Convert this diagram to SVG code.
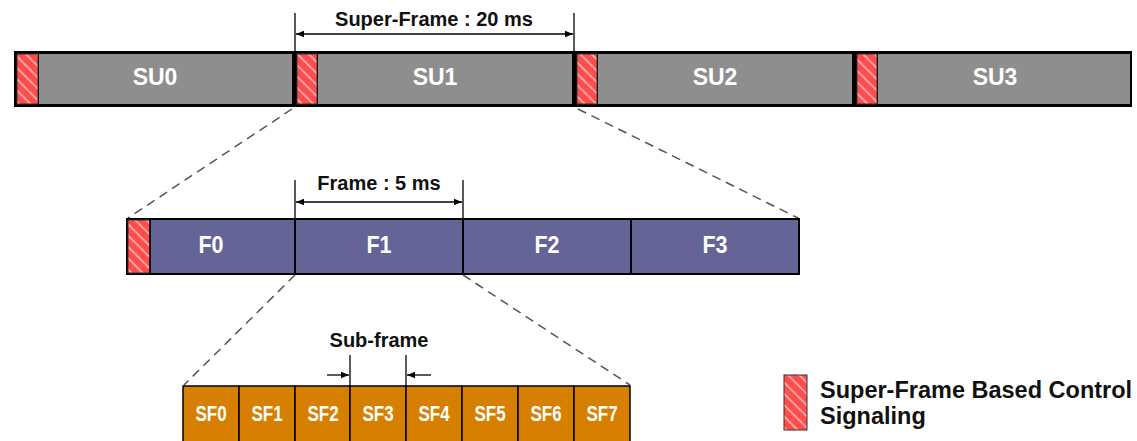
<svg xmlns="http://www.w3.org/2000/svg" width="1137" height="441" viewBox="0 0 1137 441">
<style>
.lbl{font-family:"Liberation Sans",Arial,sans-serif;font-weight:bold;fill:#fff;text-anchor:middle}
.dim{font-family:"Liberation Sans",Arial,sans-serif;font-weight:bold;fill:#111;text-anchor:middle}
.su{fill:#8e8e8e}
.fr{fill:#646496;stroke:#000;stroke-width:2}
.sf{fill:#d67f00;stroke:#000;stroke-width:1.5}
.hatch{fill:url(#hatch);stroke:#333;stroke-width:1}
.dash{stroke:#555;stroke-width:1.5;stroke-dasharray:9,6;fill:none}
.ext{stroke:#000;stroke-width:1.3;fill:none}
.arr{stroke:#000;stroke-width:1.3;fill:none}
</style>
<defs>
<pattern id="hatch" patternUnits="userSpaceOnUse" width="8" height="8" patternTransform="rotate(-45)">
<rect width="8" height="8" fill="#ff4d4d"/>
<line x1="4" y1="0" x2="4" y2="8" stroke="#ffb8b8" stroke-width="1.6"/>
</pattern>
<marker id="ah" viewBox="0 0 10 10" refX="10" refY="5" markerWidth="10" markerHeight="8" markerUnits="userSpaceOnUse" orient="auto-start-reverse">
<path d="M0,1 L10,5 L0,9 z" fill="#000"/>
</marker>
</defs>

<g id="connectors">
<line class="dash" x1="292" y1="109" x2="128" y2="218"/>
<line class="dash" x1="578" y1="109" x2="798" y2="218"/>
<line class="dash" x1="295" y1="275" x2="184" y2="385"/>
<line class="dash" x1="463" y1="275" x2="630" y2="385"/>
</g>

<g id="superframe-bar">
<rect x="14" y="51" width="1118" height="56" fill="#000"/>
<rect class="su" x="39" y="54" width="253" height="50"/>
<rect class="su" x="318" y="54" width="254" height="50"/>
<rect class="su" x="598" y="54" width="254" height="50"/>
<rect class="su" x="878" y="54" width="252" height="50"/>
<rect class="hatch" x="17" y="54" width="21" height="50"/>
<rect class="hatch" x="297" y="54" width="20" height="50"/>
<rect class="hatch" x="577" y="54" width="20" height="50"/>
<rect class="hatch" x="857" y="54" width="20" height="50"/>
</g>
<g id="SU0"><text class="lbl" transform="translate(155,85) scale(1,1.08)" font-size="23">SU0</text></g>
<g id="SU1"><text class="lbl" transform="translate(435,85) scale(1,1.08)" font-size="23">SU1</text></g>
<g id="SU2"><text class="lbl" transform="translate(715,85) scale(1,1.08)" font-size="23">SU2</text></g>
<g id="SU3"><text class="lbl" transform="translate(995,85) scale(1,1.08)" font-size="23">SU3</text></g>

<g id="superframe-dim">
<line class="ext" x1="295" y1="13" x2="295" y2="51"/>
<line class="ext" x1="574" y1="13" x2="574" y2="51"/>
<line class="arr" x1="296" y1="34" x2="573" y2="34" marker-start="url(#ah)" marker-end="url(#ah)"/>
<text class="dim" x="434" y="26" font-size="20">Super-Frame : 20 ms</text>
</g>

<g id="frame-bar">
<rect class="fr" x="127" y="219" width="672" height="55"/>
<rect class="hatch" x="128" y="220" width="22" height="53"/>
<line x1="150" y1="219" x2="150" y2="274" stroke="#000" stroke-width="1.5"/>
</g>
<g id="F0"><text class="lbl" transform="translate(211,253) scale(1,1.15)" font-size="21.5">F0</text></g>
<g id="F1"><rect class="fr" x="295" y="219" width="168" height="55"/><text class="lbl" transform="translate(379,253) scale(1,1.15)" font-size="21.5">F1</text></g>
<g id="F2"><rect class="fr" x="463" y="219" width="168" height="55"/><text class="lbl" transform="translate(547,253) scale(1,1.15)" font-size="21.5">F2</text></g>
<g id="F3"><text class="lbl" transform="translate(715,253) scale(1,1.15)" font-size="21.5">F3</text></g>

<g id="frame-dim">
<line class="ext" x1="295" y1="180" x2="295" y2="219"/>
<line class="ext" x1="463" y1="180" x2="463" y2="219"/>
<line class="arr" x1="296" y1="202" x2="462" y2="202" marker-start="url(#ah)" marker-end="url(#ah)"/>
<text class="dim" x="379" y="190" font-size="20">Frame : 5 ms</text>
</g>

<g id="SF0"><rect class="sf" x="183" y="386" width="56" height="60"/><text class="lbl" transform="translate(211,421) scale(1,1.3)" font-size="17">SF0</text></g>
<g id="SF1"><rect class="sf" x="239" y="386" width="56" height="60"/><text class="lbl" transform="translate(267,421) scale(1,1.3)" font-size="17">SF1</text></g>
<g id="SF2"><rect class="sf" x="295" y="386" width="55" height="60"/><text class="lbl" transform="translate(323,421) scale(1,1.3)" font-size="17">SF2</text></g>
<g id="SF3"><rect class="sf" x="350" y="386" width="56" height="60"/><text class="lbl" transform="translate(378,421) scale(1,1.3)" font-size="17">SF3</text></g>
<g id="SF4"><rect class="sf" x="406" y="386" width="56" height="60"/><text class="lbl" transform="translate(434,421) scale(1,1.3)" font-size="17">SF4</text></g>
<g id="SF5"><rect class="sf" x="462" y="386" width="56" height="60"/><text class="lbl" transform="translate(490,421) scale(1,1.3)" font-size="17">SF5</text></g>
<g id="SF6"><rect class="sf" x="518" y="386" width="56" height="60"/><text class="lbl" transform="translate(546,421) scale(1,1.3)" font-size="17">SF6</text></g>
<g id="SF7"><rect class="sf" x="574" y="386" width="56" height="60"/><text class="lbl" transform="translate(602,421) scale(1,1.3)" font-size="17">SF7</text></g>

<g id="subframe-dim">
<line class="ext" x1="350" y1="355" x2="350" y2="386"/>
<line class="ext" x1="406" y1="355" x2="406" y2="386"/>
<line class="arr" x1="327" y1="375" x2="349" y2="375" marker-end="url(#ah)"/>
<line class="arr" x1="431" y1="375" x2="407" y2="375" marker-end="url(#ah)"/>
<text class="dim" x="379" y="347" font-size="20">Sub-frame</text>
</g>

<g id="legend">
<rect class="hatch" x="784" y="375" width="23" height="55"/>
<text x="820" y="398" font-family="'Liberation Sans',Arial,sans-serif" font-weight="bold" font-size="23.5" fill="#111">Super-Frame Based Control</text>
<text x="820" y="424" font-family="'Liberation Sans',Arial,sans-serif" font-weight="bold" font-size="23.5" fill="#111">Signaling</text>
</g>
</svg>
